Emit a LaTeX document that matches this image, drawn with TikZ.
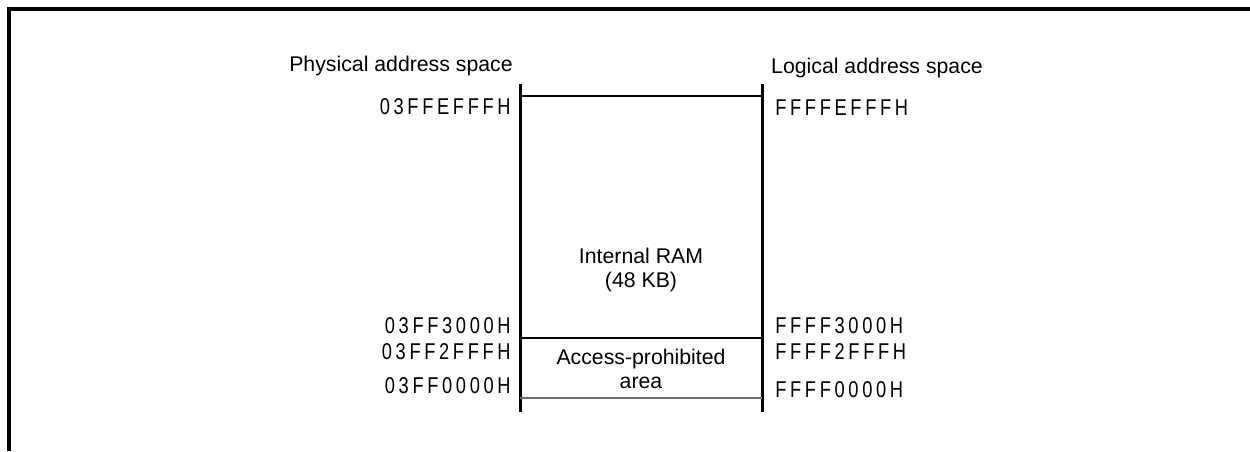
\documentclass[tikz,border=0pt]{standalone}
\usepackage{fontspec}
\usepackage{tikz}
\usetikzlibrary{positioning, calc}
\setmainfont{Liberation Sans}
\newfontfamily\addrfont{Liberation Sans}[LetterSpace=16, FakeStretch=0.8]
\definecolor{lineGray}{RGB}{110, 110, 110}

\begin{document}
\begin{tikzpicture}[
    spacelabel/.style={
        font=\fontsize{12.1}{14}\selectfont,
        inner sep=0pt
    },
    addrleft/.style={
        anchor=east,
        inner sep=0pt,
        font=\addrfont\fontsize{13}{14}\selectfont
    },
    addrright/.style={
        anchor=west,
        inner sep=0pt,
        font=\addrfont\fontsize{13}{14}\selectfont
    },
    areatext/.style={
        align=center,
        inner sep=0pt,
        font=\fontsize{12.1}{13.6}\selectfont
    },
    colline/.style={
        line width=1.7pt
    },
    bound/.style={
        line width=0.8pt
    }
]
\useasboundingbox (0,0) rectangle (25,9.02);

% Frame
\draw[line width=2pt] (0.18,0) -- (0.18,8.84) -- (25,8.84);

% Column headings
\node[spacelabel] (phys) at (8.02, 7.7) {Physical address space};
\node[spacelabel] (logi) at (17.54, 7.66) {Logical address space};

% Map columns
\coordinate (lt) at (10.4, 7.34);
\coordinate (lb) at (10.4, 0.78);
\coordinate (rt) at (15.24, 7.34);
\coordinate (rb) at (15.24, 0.78);
\draw[colline] (lt) -- (lb);
\draw[colline] (rt) -- (rb);

% Area boundaries
\draw[bound] (10.4, 7.1) -- (15.24, 7.1);
\draw[bound] (10.4, 2.26) -- (15.24, 2.26);
\draw[bound, draw=lineGray] (10.4, 1.06) -- (15.24, 1.06);

% Areas
\node[areatext] (ram) at (12.82, 3.62) {Internal RAM\\(48 KB)};
\node[areatext] (prohib) at (12.82, 1.64) {Access-prohibited\\area};

% Physical addresses
\node[addrleft] (p1) at (10.22, 6.88) {03FFEFFFH};
\node[addrleft] (p2) at (10.22, 2.5) {03FF3000H};
\node[addrleft] (p3) at (10.22, 1.98) {03FF2FFFH};
\node[addrleft] (p4) at (10.22, 1.3) {03FF0000H};

% Logical addresses
\node[addrright] (l1) at (15.5, 6.86) {FFFFEFFFH};
\node[addrright] (l2) at (15.5, 2.5) {FFFF3000H};
\node[addrright] (l3) at (15.5, 1.98) {FFFF2FFFH};
\node[addrright] (l4) at (15.5, 1.22) {FFFF0000H};

\end{tikzpicture}
\end{document}
